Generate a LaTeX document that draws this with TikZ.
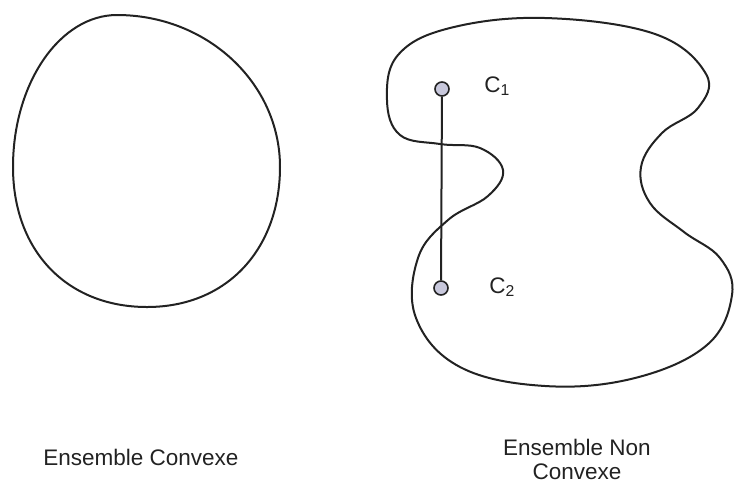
\documentclass[tikz,border=0pt]{standalone}
\usepackage{fontspec}
\setmainfont{Liberation Sans}
\usetikzlibrary{positioning}
\definecolor{ink}{HTML}{222222}
\definecolor{pointfill}{HTML}{C8C8DC}

\begin{document}
\begin{tikzpicture}[
  x=0.5pt, y=-0.5pt,
  contour/.style={draw=ink, line width=1pt},
  pointnode/.style={circle, draw=ink, fill=pointfill, line width=0.8pt,
                    minimum size=7pt, inner sep=0pt},
  lbl/.style={font=\fontsize{11.25}{12}\selectfont, text=ink, inner sep=0pt},
  caption/.style={lbl, align=center}
]
\useasboundingbox (0,0) rectangle (735,484);
% ensemble convexe
\draw[contour] (117,15) .. controls (207,15) and (280,83) .. (280,167)
  .. controls (280,248) and (228,307) .. (147,307)
  .. controls (67,307) and (13,251) .. (13,167)
  .. controls (13,83) and (60,15) .. (117,15) -- cycle;
% ensemble non convexe
\draw[contour] plot[smooth cycle, tension=0.65] coordinates {
  (545,18) (655,34) (706,74) (698,108) (662,133) (641,167)
  (650,203) (684,232) (720,258) (732,295) (707,345) (635,378)
  (545,386) (460,367) (416,318) (418,258) (448,220) (488,196)
  (503,170) (480,148) (440,144) (400,135) (387,100) (398,55)
  (450,28)};
\node[pointnode] (c1) at (442,89) {};
\node[pointnode] (c2) at (441,288) {};
\draw[contour] (c1) -- (c2);
\node[lbl, anchor=west] (c1lbl) at (484,86) {C\textsubscript{1}};
\node[lbl, anchor=west] (c2lbl) at (489,287) {C\textsubscript{2}};
\node[caption] (convexe) at (141,457) {Ensemble Convexe};
\node[caption] (nonconvexe) at (577,459) {Ensemble Non\\Convexe};
\end{tikzpicture}
\end{document}
